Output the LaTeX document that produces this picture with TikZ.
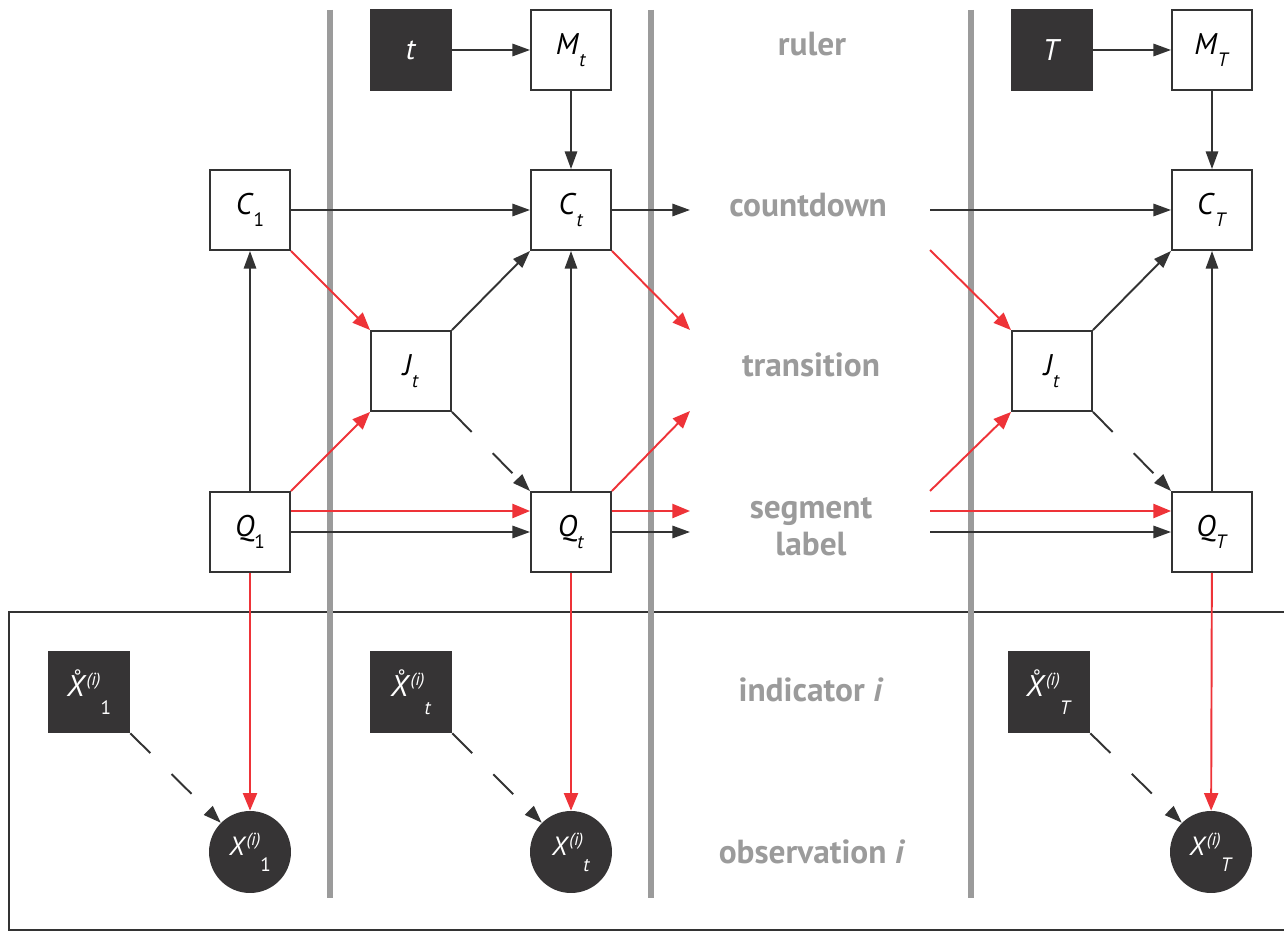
\documentclass[tikz,border=0pt]{standalone}
\usepackage{fontspec}
\setmainfont{PT Sans}
\usetikzlibrary{arrows.meta,positioning}
\definecolor{SegDark}{HTML}{363435}
\definecolor{SegLine}{HTML}{333333}
\definecolor{SegRed}{HTML}{EE3338}
\definecolor{SegGray}{HTML}{9B9B9B}
\newcommand{\varlbl}[2]{\textit{#1}\raisebox{-0.42em}{\fontsize{11}{11}\selectfont #2}}
\newcommand{\obslbl}[2]{#1\raisebox{0.38em}{\fontsize{10}{10}\selectfont\textit{(i)}}\raisebox{-0.6em}{\fontsize{11}{11}\selectfont #2}}
\newcommand{\ringX}{\makebox[0pt][l]{\hspace{0.22em}\raisebox{0.45em}{\fontsize{11}{11}\selectfont °}}\textit{X}}
\tikzset{
  varbox/.style={draw=SegLine, line width=1.1pt, fill=white, minimum size=1.6cm,
    inner sep=0pt, font=\fontsize{17}{17}\selectfont},
  ctrlbox/.style={fill=SegDark, text=white, minimum size=1.64cm, inner sep=0pt,
    font=\fontsize{17}{17}\selectfont},
  obscirc/.style={circle, fill=SegDark, text=white, minimum size=1.64cm, inner sep=0pt,
    font=\fontsize{15}{15}\selectfont},
  rowlabel/.style={text=SegGray, align=center, font=\fontsize{19}{21}\selectfont\bfseries},
  blk/.style={draw=SegLine, line width=1.1pt, -{Triangle[length=10pt,width=7pt]}},
  rarr/.style={draw=SegRed, line width=1.1pt, -{Triangle[length=10pt,width=8pt]}},
  dasharr/.style={blk, dash pattern=on 16pt off 17pt},
  sepline/.style={draw=SegGray, line width=3.8pt},
  plate/.style={draw=SegLine, line width=1pt}
}
\begin{document}
\begin{tikzpicture}[x=0.02cm,y=-0.02cm]
\useasboundingbox (0,0) rectangle (1284,932);

% plate and time separators
\draw[plate] (1300,612) -- (9,612) -- (9,930) -- (1300,930);
\foreach \x in {330,651,971}
  \draw[sepline] (\x,10) -- (\x,898);

% row labels
\node[rowlabel] (lruler) at (812,44) {ruler};
\node[rowlabel] (lcount) at (808,205) {countdown};
\node[rowlabel] (ltrans) at (811,365) {transition};
\node[rowlabel] (lseg) at (811,527) {segment\\label};
\node[rowlabel] (lind) at (811,690) {indicator \textit{i}};
\node[rowlabel] (lobs) at (812,852) {observation \textit{i}};

% first slice
\node[varbox] (C1) at (250,210) {\varlbl{C}{1}};
\node[varbox] (Q1) at (250,532) {\varlbl{Q}{1}};
\node[ctrlbox] (Xr1) at (89,692) {\obslbl{\ringX}{1}};
\node[obscirc] (X1) at (250,852) {\obslbl{\textit{X}}{1}};

% slice t
\node[ctrlbox] (t) at (411,50) {\textit{t}};
\node[varbox] (Mt) at (571,50) {\varlbl{M}{\textit{t}}};
\node[varbox] (Ct) at (571,210) {\varlbl{C}{\textit{t}}};
\node[varbox] (Jt) at (411,371) {\varlbl{J}{\textit{t}}};
\node[varbox] (Qt) at (571,532) {\varlbl{Q}{\textit{t}}};
\node[ctrlbox] (Xrt) at (411,692) {\obslbl{\ringX}{\textit{t}}};
\node[obscirc] (Xt) at (571,852) {\obslbl{\textit{X}}{\textit{t}}};

% slice T
\node[ctrlbox] (T) at (1052,50) {\textit{T}};
\node[varbox] (MT) at (1212,50) {\varlbl{M}{\textit{T}}};
\node[varbox] (CT) at (1212,210) {\varlbl{C}{\textit{T}}};
\node[varbox] (JT) at (1052,371) {\varlbl{J}{\textit{t}}};
\node[varbox] (QT) at (1212,532) {\varlbl{Q}{\textit{T}}};
\node[ctrlbox] (XrT) at (1049,692) {\obslbl{\ringX}{\textit{T}}};
\node[obscirc] (XT) at (1211,852) {\obslbl{\textit{X}}{\textit{T}}};

% loose ends around the gap
\coordinate (cdL) at (690,210);
\coordinate (trL1) at (690,330);
\coordinate (trL2) at (690,411);
\coordinate (sgL1) at (690,511);
\coordinate (sgL2) at (690,532);
\coordinate (cdR) at (930,210);
\coordinate (trR1) at (930,250);
\coordinate (trR2) at (930,491);
\coordinate (sgR1) at (930,511);
\coordinate (sgR2) at (930,532);

% black edges
\draw[blk] (Q1) -- (C1);
\draw[blk] (C1) -- (Ct);
\draw[blk] (Q1) -- (Qt);
\draw[blk] (t) -- (Mt);
\draw[blk] (Mt) -- (Ct);
\draw[blk] (Jt.north east) -- (Ct.south west);
\draw[blk] (Qt) -- (Ct);
\draw[blk] (Ct) -- (cdL);
\draw[blk] (Qt) -- (sgL2);
\draw[blk] (T) -- (MT);
\draw[blk] (MT) -- (CT);
\draw[blk] (cdR) -- (CT);
\draw[blk] (JT.north east) -- (CT.south west);
\draw[blk] (QT) -- (CT);
\draw[blk] (sgR2) -- (QT);
\draw[dasharr] (Jt.south east) -- (Qt.north west);
\draw[dasharr] (JT.south east) -- (QT.north west);
\draw[dasharr] (Xr1.south east) -- (X1.north west);
\draw[dasharr] (Xrt.south east) -- (Xt.north west);
\draw[dasharr] (XrT.south east) -- (XT.north west);

% red edges
\draw[rarr] (C1.south east) -- (Jt.north west);
\draw[rarr] (Q1.north east) -- (Jt.south west);
\draw[rarr] ([yshift=0.42cm]Q1.east) -- ([yshift=0.42cm]Qt.west);
\draw[rarr] (Ct.south east) -- (trL1);
\draw[rarr] (Qt.north east) -- (trL2);
\draw[rarr] ([yshift=0.42cm]Qt.east) -- (sgL1);
\draw[rarr] (trR1) -- (JT.north west);
\draw[rarr] (trR2) -- (JT.south west);
\draw[rarr] (sgR1) -- ([yshift=0.42cm]QT.west);
\draw[rarr] (Q1) -- (X1);
\draw[rarr] (Qt) -- (Xt);
\draw[rarr] (QT) -- (XT);
\end{tikzpicture}
\end{document}
